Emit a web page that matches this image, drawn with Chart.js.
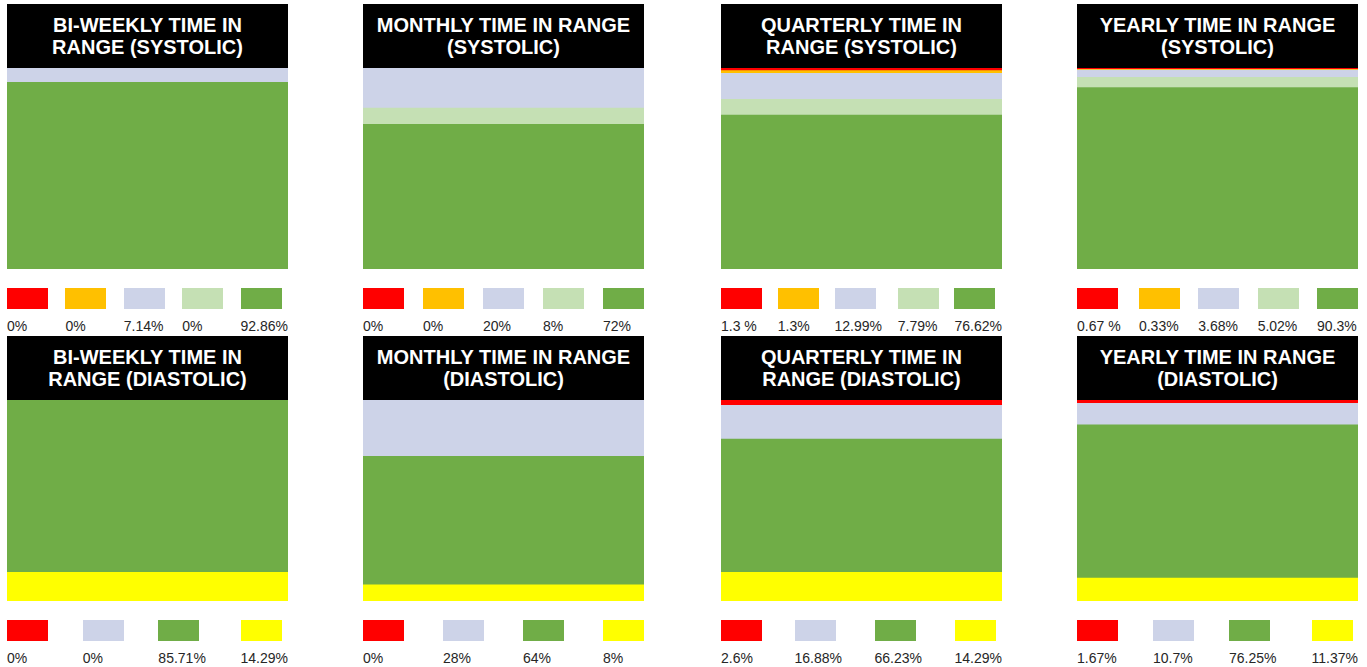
<!DOCTYPE html>
<html>
<head>
<meta charset="utf-8">
<script src="https://cdn.jsdelivr.net/npm/chart.js@4"></script>
<style>
  html, body { margin: 0; padding: 0; background: #ffffff; }
  body { width: 1367px; height: 667px; position: relative; overflow: hidden; font-family: "Liberation Sans", Arial, sans-serif; }
  .panel { position: absolute; width: 281px; }
  .head { height: 64px; background: #000; color: #fff; font-weight: bold; font-size: 20px; line-height: 22px;
          display: flex; align-items: center; justify-content: center; text-align: center; white-space: pre-line; }
  .bar { width: 281px; height: 201px; position: relative; }
  .legend { display: flex; justify-content: space-between; margin-top: 19px; }
  .item { display: flex; flex-direction: column; align-items: flex-start; }
  .box { width: 41px; height: 21px; }
  .lab { font-size: 14px; line-height: 16px; color: #262626; margin-top: 9px; white-space: pre; }
</style>
</head>
<body>
<script>
// Categories (top-to-bottom / legend order)
const systolicCategories = ["Very High", "High", "Elevated", "Normal-High", "Normal"];
const systolicColors = ["#FF0000", "#FFC000", "#CDD3E8", "#C5E0B4", "#70AD47"];
const diastolicCategories = ["High", "Elevated", "Normal", "Low"];
const diastolicColors = ["#FF0000", "#CDD3E8", "#70AD47", "#FFFF00"];

// Titles
const titles = [
  "BI-WEEKLY TIME IN\nRANGE (SYSTOLIC)",
  "MONTHLY TIME IN RANGE\n(SYSTOLIC)",
  "QUARTERLY TIME IN\nRANGE (SYSTOLIC)",
  "YEARLY TIME IN RANGE\n(SYSTOLIC)",
  "BI-WEEKLY TIME IN\nRANGE (DIASTOLIC)",
  "MONTHLY TIME IN RANGE\n(DIASTOLIC)",
  "QUARTERLY TIME IN\nRANGE (DIASTOLIC)",
  "YEARLY TIME IN RANGE\n(DIASTOLIC)"
];

// Series values (percent)
const biweeklySystolic = [0, 0, 7.14, 0, 92.86];
const monthlySystolic = [0, 0, 20, 8, 72];
const quarterlySystolic = [1.3, 1.3, 12.99, 7.79, 76.62];
const yearlySystolic = [0.67, 0.33, 3.68, 5.02, 90.3];
const biweeklyDiastolic = [0, 0, 85.71, 14.29];
const monthlyDiastolic = [0, 28, 64, 8];
const quarterlyDiastolic = [2.6, 16.88, 66.23, 14.29];
const yearlyDiastolic = [1.67, 10.7, 76.25, 11.37];

// Legend labels (as shown)
const biweeklySystolicLabels = ["0%", "0%", "7.14%", "0%", "92.86%"];
const monthlySystolicLabels = ["0%", "0%", "20%", "8%", "72%"];
const quarterlySystolicLabels = ["1.3 %", "1.3%", "12.99%", "7.79%", "76.62%"];
const yearlySystolicLabels = ["0.67 %", "0.33%", "3.68%", "5.02%", "90.3%"];
const biweeklyDiastolicLabels = ["0%", "0%", "85.71%", "14.29%"];
const monthlyDiastolicLabels = ["0%", "28%", "64%", "8%"];
const quarterlyDiastolicLabels = ["2.6%", "16.88%", "66.23%", "14.29%"];
const yearlyDiastolicLabels = ["1.67%", "10.7%", "76.25%", "11.37%"];

const panels = [
  { title: titles[0], values: biweeklySystolic, labels: biweeklySystolicLabels, cats: systolicCategories, colors: systolicColors },
  { title: titles[1], values: monthlySystolic, labels: monthlySystolicLabels, cats: systolicCategories, colors: systolicColors },
  { title: titles[2], values: quarterlySystolic, labels: quarterlySystolicLabels, cats: systolicCategories, colors: systolicColors },
  { title: titles[3], values: yearlySystolic, labels: yearlySystolicLabels, cats: systolicCategories, colors: systolicColors },
  { title: titles[4], values: biweeklyDiastolic, labels: biweeklyDiastolicLabels, cats: diastolicCategories, colors: diastolicColors },
  { title: titles[5], values: monthlyDiastolic, labels: monthlyDiastolicLabels, cats: diastolicCategories, colors: diastolicColors },
  { title: titles[6], values: quarterlyDiastolic, labels: quarterlyDiastolicLabels, cats: diastolicCategories, colors: diastolicColors },
  { title: titles[7], values: yearlyDiastolic, labels: yearlyDiastolicLabels, cats: diastolicCategories, colors: diastolicColors }
];

const lefts = [7, 363, 721, 1077];
const tops = [4, 336];

panels.forEach((p, i) => {
  const panel = document.createElement('div');
  panel.className = 'panel';
  panel.style.left = lefts[i % 4] + 'px';
  panel.style.top = tops[Math.floor(i / 4)] + 'px';

  const head = document.createElement('div');
  head.className = 'head';
  head.textContent = p.title;
  panel.appendChild(head);

  const barWrap = document.createElement('div');
  barWrap.className = 'bar';
  const canvas = document.createElement('canvas');
  barWrap.appendChild(canvas);
  panel.appendChild(barWrap);

  const legend = document.createElement('div');
  legend.className = 'legend';
  p.cats.forEach((c, k) => {
    const item = document.createElement('div');
    item.className = 'item';
    const box = document.createElement('div');
    box.className = 'box';
    box.style.background = p.colors[k];
    const lab = document.createElement('div');
    lab.className = 'lab';
    lab.textContent = p.labels[k];
    item.appendChild(box);
    item.appendChild(lab);
    legend.appendChild(item);
  });
  panel.appendChild(legend);
  document.body.appendChild(panel);

  // stack bottom-up: last category at the bottom
  const datasets = p.cats.map((c, k) => ({
    label: c,
    data: [p.values[k]],
    backgroundColor: p.colors[k],
    borderWidth: 0,
    barPercentage: 1,
    categoryPercentage: 1
  })).reverse();

  new Chart(canvas, {
    type: 'bar',
    data: { labels: [''], datasets },
    options: {
      responsive: true,
      maintainAspectRatio: false,
      animation: false,
      layout: { padding: 0 },
      plugins: { legend: { display: false }, tooltip: { enabled: false }, title: { display: false } },
      scales: {
        x: { stacked: true, display: false, grid: { display: false } },
        y: { stacked: true, display: false, min: 0, max: 100, grid: { display: false } }
      }
    }
  });
});
</script>
</body>
</html>
